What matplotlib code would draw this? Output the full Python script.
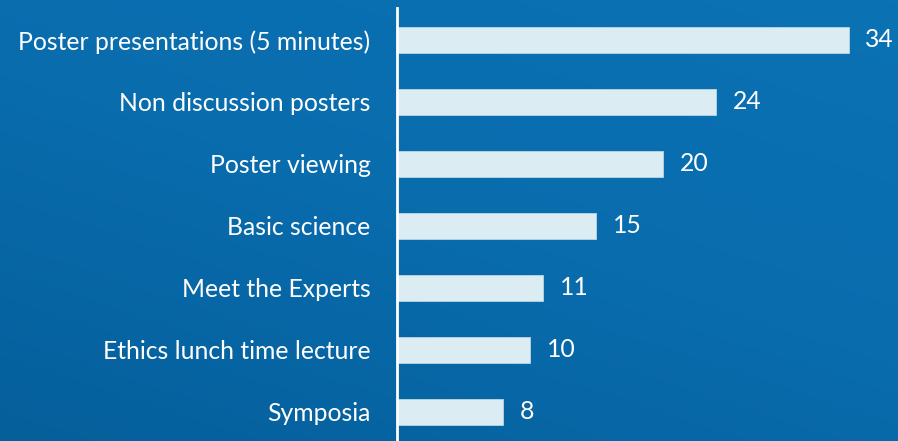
import matplotlib.pyplot as plt
import numpy as np
from matplotlib.colors import LinearSegmentedColormap

categories = [
    "Poster presentations (5 minutes)",
    "Non discussion posters",
    "Poster viewing",
    "Basic science",
    "Meet the Experts",
    "Ethics lunch time lecture",
    "Symposia",
]
counts = [34, 24, 20, 15, 11, 10, 8]

plt.rcParams["font.family"] = ["Lato", "DejaVu Sans"]

fig = plt.figure(figsize=(8.98, 4.41), dpi=100)

# blue gradient background
bg = fig.add_axes([0, 0, 1, 1])
gx, gy = np.meshgrid(np.linspace(0, 1, 200), np.linspace(0, 1, 100))
grad = 0.6 * gy + 0.4 * gx
cmap = LinearSegmentedColormap.from_list("bg", ["#055f9b", "#096cad", "#0b72b4"])
bg.imshow(grad, cmap=cmap, aspect="auto", extent=[0, 1, 0, 1], origin="lower")
bg.set_axis_off()

ax = fig.add_axes([0.4421, 0, 0.5579, 0.9819])
ax.patch.set_alpha(0)
y = np.arange(len(categories))
ax.barh(y, counts, height=0.41, color="#dbedf3", edgecolor="#b9d6e3", linewidth=0.6)
ax.set_ylim(6.468, -0.516)
ax.set_xlim(0, 37.7)

for spine in ["top", "right", "bottom"]:
    ax.spines[spine].set_visible(False)
ax.spines["left"].set_color("white")
ax.spines["left"].set_linewidth(2)
ax.set_xticks([])
ax.set_yticks(y, categories)
ax.tick_params(axis="y", length=0, pad=19, labelsize=17.8, labelcolor="white")

for yi, v in zip(y, counts):
    ax.text(v + 1.25, yi, str(v), va="center", ha="left", color="white", fontsize=17.8)

fig.savefig("out.png", dpi=100)
